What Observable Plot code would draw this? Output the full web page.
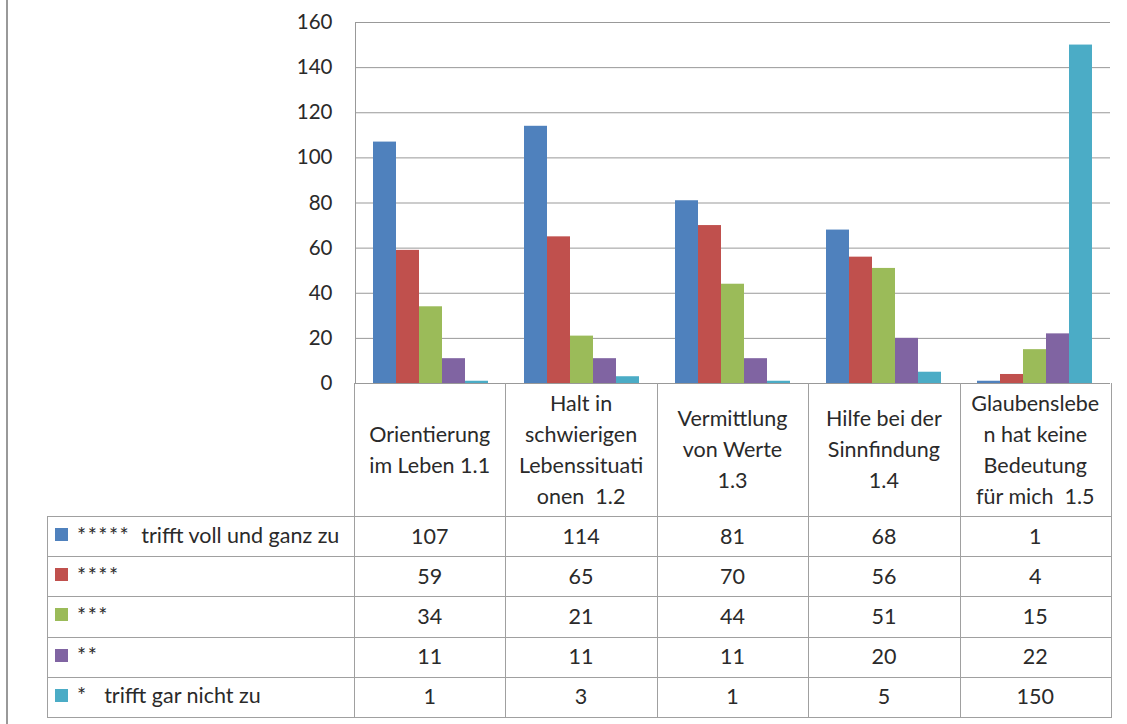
<!DOCTYPE html>
<html>
<head>
<meta charset="utf-8">
<script src="https://cdn.jsdelivr.net/npm/d3@7"></script>
<script src="https://cdn.jsdelivr.net/npm/@observablehq/plot@0.6"></script>
<style>
  html, body { margin: 0; padding: 0; background: #fff; }
  body { width: 1127px; height: 724px; position: relative; overflow: hidden; font-family: Lato, "Open Sans", sans-serif; color: #2a2a2a; }
  #chart { position: absolute; left: 0; top: 0; }
  .ln { position: absolute; background: #a0a0a0; }
  .cell { position: absolute; display: flex; align-items: center; justify-content: center; text-align: center; font-size: 21.5px; line-height: 31px; white-space: pre; }
  .lab { position: absolute; display: flex; align-items: center; font-size: 21.5px; white-space: pre; }
  .sw { width: 13px; height: 13px; margin-right: 9px; flex: none; }
  .stars { letter-spacing: 1.5px; }
</style>
</head>
<body>
<div class="ln" style="left:6px;top:0;width:2px;height:724px;background:#999"></div>
<div id="chart"></div>
<div id="table"></div>
<script>
// ---- data ----
const categories = [
  "Orientierung im Leben 1.1",
  "Halt in schwierigen Lebenssituationen 1.2",
  "Vermittlung von Werte 1.3",
  "Hilfe bei der Sinnfindung 1.4",
  "Glaubensleben hat keine Bedeutung für mich 1.5"
];
const categoryLines = [
  ["Orientierung", "im Leben 1.1"],
  ["Halt in", "schwierigen", "Lebenssituati", "onen  1.2"],
  ["Vermittlung", "von Werte", "1.3"],
  ["Hilfe bei der", "Sinnfindung", "1.4"],
  ["Glaubenslebe", "n hat keine", "Bedeutung", "für mich  1.5"]
];
const seriesNames = [
  "*****  trifft voll und ganz zu",
  "****",
  "***",
  "**",
  "*   trifft gar nicht zu"
];
const seriesColors = ["#4F81BD", "#C0504D", "#9BBB59", "#8064A2", "#4BACC6"];
const values5 = [107, 114, 81, 68, 1];
const values4 = [59, 65, 70, 56, 4];
const values3 = [34, 21, 44, 51, 15];
const values2 = [11, 11, 11, 20, 22];
const values1 = [1, 3, 1, 5, 150];
const yTicks = [0, 20, 40, 60, 80, 100, 120, 140, 160];

const seriesValues = [values5, values4, values3, values2, values1];
const data = [];
seriesNames.forEach((s, si) => categories.forEach((c, ci) => data.push({category: c, series: s, value: seriesValues[si][ci]})));

// ---- layout ----
const W = 1127, ML = 354, MR = 16, MT = 22, Y0 = 383;
const colW = (W - ML - MR) / categories.length;
const labelLeft = 47;
const headerBottom = 516;
const rowH = 40.2;

const plot = Plot.plot({
  width: W,
  height: Y0 + 1,
  marginLeft: ML,
  marginRight: MR,
  marginTop: MT,
  marginBottom: 1,
  style: {fontFamily: "Lato, 'Open Sans', sans-serif", fontSize: "20px", color: "#2a2a2a", background: "transparent", overflow: "visible"},
  fx: {domain: categories, padding: 0, axis: null},
  x: {domain: seriesNames, paddingInner: 0, paddingOuter: 0.75, axis: null},
  y: {domain: [0, 160], label: null},
  color: {domain: seriesNames, range: seriesColors},
  marks: [
    Plot.gridY(yTicks, {stroke: "#999", strokeOpacity: 1}),
    Plot.barY(data, {fx: "category", x: "series", y: "value", fill: "series"}),
    Plot.axisY(yTicks, {tickSize: 0, tickPadding: 23, fill: "#2a2a2a", fontSize: 20.5}),
    Plot.frame({anchor: "left", stroke: "#999", fx: () => categories[0]})
  ]
});
document.getElementById("chart").appendChild(plot);

// ---- data table ----
const table = document.getElementById("table");
function line(x, y, w, h) {
  const d = document.createElement("div");
  d.className = "ln";
  d.style.left = x + "px"; d.style.top = y + "px"; d.style.width = w + "px"; d.style.height = h + "px";
  table.appendChild(d);
}
const tableBottom = headerBottom + rowH * seriesNames.length;
line(ML, Y0, 1, tableBottom - Y0 + 1);
categories.forEach((c, i) => line(Math.round(ML + (i + 1) * colW), Y0, 1, tableBottom - Y0 + 1));
line(labelLeft, headerBottom, 1, tableBottom - headerBottom + 1);
for (let r = 0; r <= seriesNames.length; r++) line(labelLeft, Math.round(headerBottom + r * rowH), W - MR - labelLeft + 1, 1);

categoryLines.forEach((lines, i) => {
  const d = document.createElement("div");
  d.className = "cell";
  d.style.left = (ML + i * colW) + "px"; d.style.top = Y0 + "px";
  d.style.width = colW + "px"; d.style.height = (headerBottom - Y0) + "px";
  d.textContent = lines.join("\n");
  table.appendChild(d);
});
seriesNames.forEach((s, si) => {
  const top = headerBottom + si * rowH;
  const lab = document.createElement("div");
  lab.className = "lab";
  lab.style.left = (labelLeft + 8) + "px"; lab.style.top = (top + 1) + "px";
  lab.style.height = (rowH - 5) + "px";
  const sw = document.createElement("span");
  sw.className = "sw"; sw.style.background = seriesColors[si];
  lab.appendChild(sw);
  const m = s.match(/^(\*+)(.*)$/);
  const st = document.createElement("span");
  st.className = "stars"; st.textContent = m[1];
  lab.appendChild(st);
  const t = document.createElement("span");
  t.textContent = m[2];
  lab.appendChild(t);
  table.appendChild(lab);
  seriesValues[si].forEach((v, ci) => {
    const d = document.createElement("div");
    d.className = "cell";
    d.style.left = (ML + ci * colW) + "px"; d.style.top = top + "px";
    d.style.width = colW + "px"; d.style.height = rowH + "px";
    d.textContent = String(v);
    table.appendChild(d);
  });
});
</script>
</body>
</html>
